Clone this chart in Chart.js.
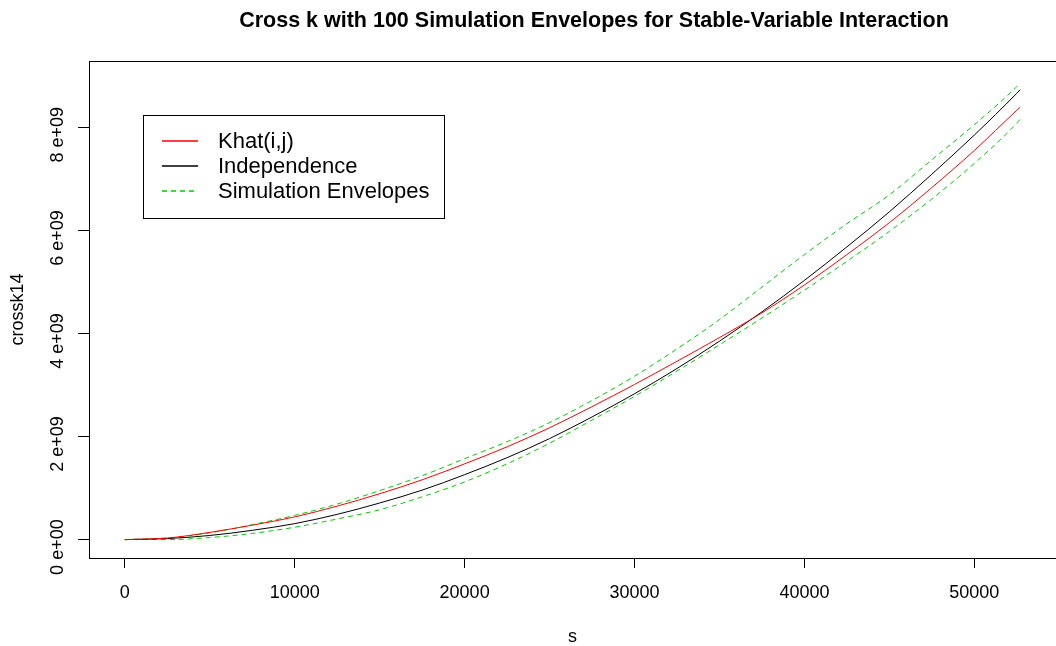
<!DOCTYPE html>
<html>
<head>
<meta charset="utf-8">
<script src="https://cdn.jsdelivr.net/npm/chart.js@4.4.1/dist/chart.umd.min.js"></script>
<style>
  html, body { margin: 0; padding: 0; background: #fff; }
</style>
</head>
<body>
<canvas id="crossChart" width="1056" height="646"></canvas>
<script>
// distance s
const sValues = [0, 2500, 5000, 7500, 10000, 12500, 15000, 17500, 20000, 22500, 25000,
  27500, 30000, 32500, 35000, 37500, 40000, 42500, 45000, 47500, 50000, 52500, 52700];

// series values, in units of 1e9
const khat = [0, 0.03, 0.14, 0.28, 0.44, 0.65, 0.89, 1.16, 1.47, 1.80, 2.17,
  2.58, 3.01, 3.46, 3.92, 4.40, 4.94, 5.53, 6.15, 6.83, 7.55, 8.33, 8.39];
const independence = [0, 0.02, 0.08, 0.18, 0.31, 0.49, 0.71, 0.96, 1.26, 1.59, 1.96,
  2.38, 2.83, 3.32, 3.85, 4.42, 5.03, 5.68, 6.36, 7.09, 7.85, 8.66, 8.73];
const envUpper = [0, 0.03, 0.13, 0.29, 0.47, 0.69, 0.95, 1.24, 1.57, 1.90, 2.27,
  2.70, 3.17, 3.70, 4.27, 4.90, 5.53, 6.13, 6.69, 7.37, 8.05, 8.79, 8.86];
const envLower = [0, 0, 0.04, 0.12, 0.24, 0.40, 0.58, 0.83, 1.12, 1.47, 1.87,
  2.32, 2.78, 3.27, 3.78, 4.30, 4.84, 5.40, 5.98, 6.61, 7.30, 8.08, 8.16];

// tick labels
const xTicks = [0, 10000, 20000, 30000, 40000, 50000];
const yTicks = [0, 2, 4, 6, 8];
const yTickDigits = ['0', '2', '4', '6', '8'];
const yTickExp = ['e+00', 'e+09', 'e+09', 'e+09', 'e+09'];

const FONT = '"Liberation Sans", Arial, sans-serif';
const toPoints = vals => sValues.map((s, i) => ({ x: s, y: vals[i] * 1e9 }));

// title, frame, rotated y labels and legend box, drawn the way R does it
const rPlotBits = {
    id: 'rPlotBits',
    afterDraw(chart) {
        const ctx = chart.ctx;
        const area = chart.chartArea;
        const yScale = chart.scales.y;

        ctx.save();
        ctx.fillStyle = '#000';
        ctx.font = 'bold 21.5px ' + FONT;
        ctx.textAlign = 'center';
        ctx.textBaseline = 'middle';
        ctx.fillText('Cross k with 100 Simulation Envelopes for Stable-Variable Interaction', 594, 21);

        // plot frame
        ctx.strokeStyle = '#000';
        ctx.lineWidth = 1;
        ctx.strokeRect(Math.round(area.left) + 0.5, Math.round(area.top) + 0.5,
            Math.round(area.right - area.left), Math.round(area.bottom - area.top));

        // y tick labels, rotated
        ctx.font = '18px ' + FONT;
        ctx.textAlign = 'left';
        yTicks.forEach((v, i) => {
            const py = yScale.getPixelForValue(v * 1e9);
            const pre = yTickDigits[i] + ' ';
            const wPre = ctx.measureText(pre).width;
            const wExp = ctx.measureText(yTickExp[i]).width;
            ctx.save();
            ctx.translate(58, py + wPre + wExp / 2);
            ctx.rotate(-Math.PI / 2);
            ctx.fillText(pre + yTickExp[i], 0, 0);
            ctx.restore();
        });

        // legend
        const box = { x: 143, y: 115, w: 301, h: 103 };
        ctx.fillStyle = '#fff';
        ctx.fillRect(box.x, box.y, box.w, box.h);
        ctx.strokeStyle = '#000';
        ctx.strokeRect(box.x + 0.5, box.y + 0.5, box.w, box.h);
        const entries = chart.data.datasets.slice(0, 3);
        ctx.font = '22px ' + FONT;
        ctx.textAlign = 'left';
        entries.forEach((ds, i) => {
            const ly = 141 + i * 25;
            ctx.beginPath();
            ctx.lineWidth = 1.5;
            ctx.strokeStyle = ds.borderColor;
            ctx.setLineDash(ds.borderDash || []);
            ctx.moveTo(162, ly);
            ctx.lineTo(198, ly);
            ctx.stroke();
            ctx.setLineDash([]);
            ctx.fillStyle = '#000';
            ctx.fillText(ds.label, 218, ly + 1);
        });
        ctx.restore();
    }
};

new Chart(document.getElementById('crossChart').getContext('2d'), {
    type: 'line',
    data: {
        datasets: [
            { label: 'Khat(i,j)', data: toPoints(khat), borderColor: '#FF0000', borderWidth: 1 },
            { label: 'Independence', data: toPoints(independence), borderColor: '#000000', borderWidth: 1 },
            { label: 'Simulation Envelopes', data: toPoints(envUpper), borderColor: '#00CD00', borderWidth: 1, borderDash: [5, 4] },
            { label: 'Simulation Envelopes', data: toPoints(envLower), borderColor: '#00CD00', borderWidth: 1, borderDash: [5, 4] }
        ]
    },
    options: {
        responsive: false,
        animation: false,
        parsing: false,
        layout: { padding: { top: 61, right: -4, bottom: 0, left: 0 } },
        elements: {
            point: { radius: 0 },
            line: { cubicInterpolationMode: 'monotone' }
        },
        plugins: {
            legend: { display: false },
            title: { display: false },
            tooltip: { enabled: false }
        },
        scales: {
            x: {
                type: 'linear',
                min: -2108,
                max: 54808,
                afterBuildTicks: scale => { scale.ticks = xTicks.map(v => ({ value: v })); },
                afterFit: scale => { scale.height = 88; },
                border: { display: false },
                grid: { drawOnChartArea: false, drawTicks: true, tickLength: 10, tickColor: '#000', tickWidth: 1 },
                ticks: { color: '#000', font: { family: FONT, size: 18 }, padding: 14, maxRotation: 0, autoSkip: false,
                    callback: v => String(v) },
                title: { display: true, text: 's', color: '#000', font: { family: FONT, size: 18, lineHeight: 1 }, padding: { top: 0, bottom: 0 } }
            },
            y: {
                type: 'linear',
                min: -0.357e9,
                max: 9.287e9,
                afterBuildTicks: scale => { scale.ticks = yTicks.map(v => ({ value: v * 1e9 })); },
                afterFit: scale => { scale.width = 89; },
                border: { display: false },
                grid: { drawOnChartArea: false, drawTicks: true, tickLength: 11, tickColor: '#000', tickWidth: 1 },
                ticks: { display: false },
                title: { display: true, text: 'crossk14', color: '#000', font: { family: FONT, size: 18, lineHeight: 1 }, padding: { top: 9, bottom: 0 } }
            }
        }
    },
    plugins: [rPlotBits]
});
</script>
</body>
</html>
